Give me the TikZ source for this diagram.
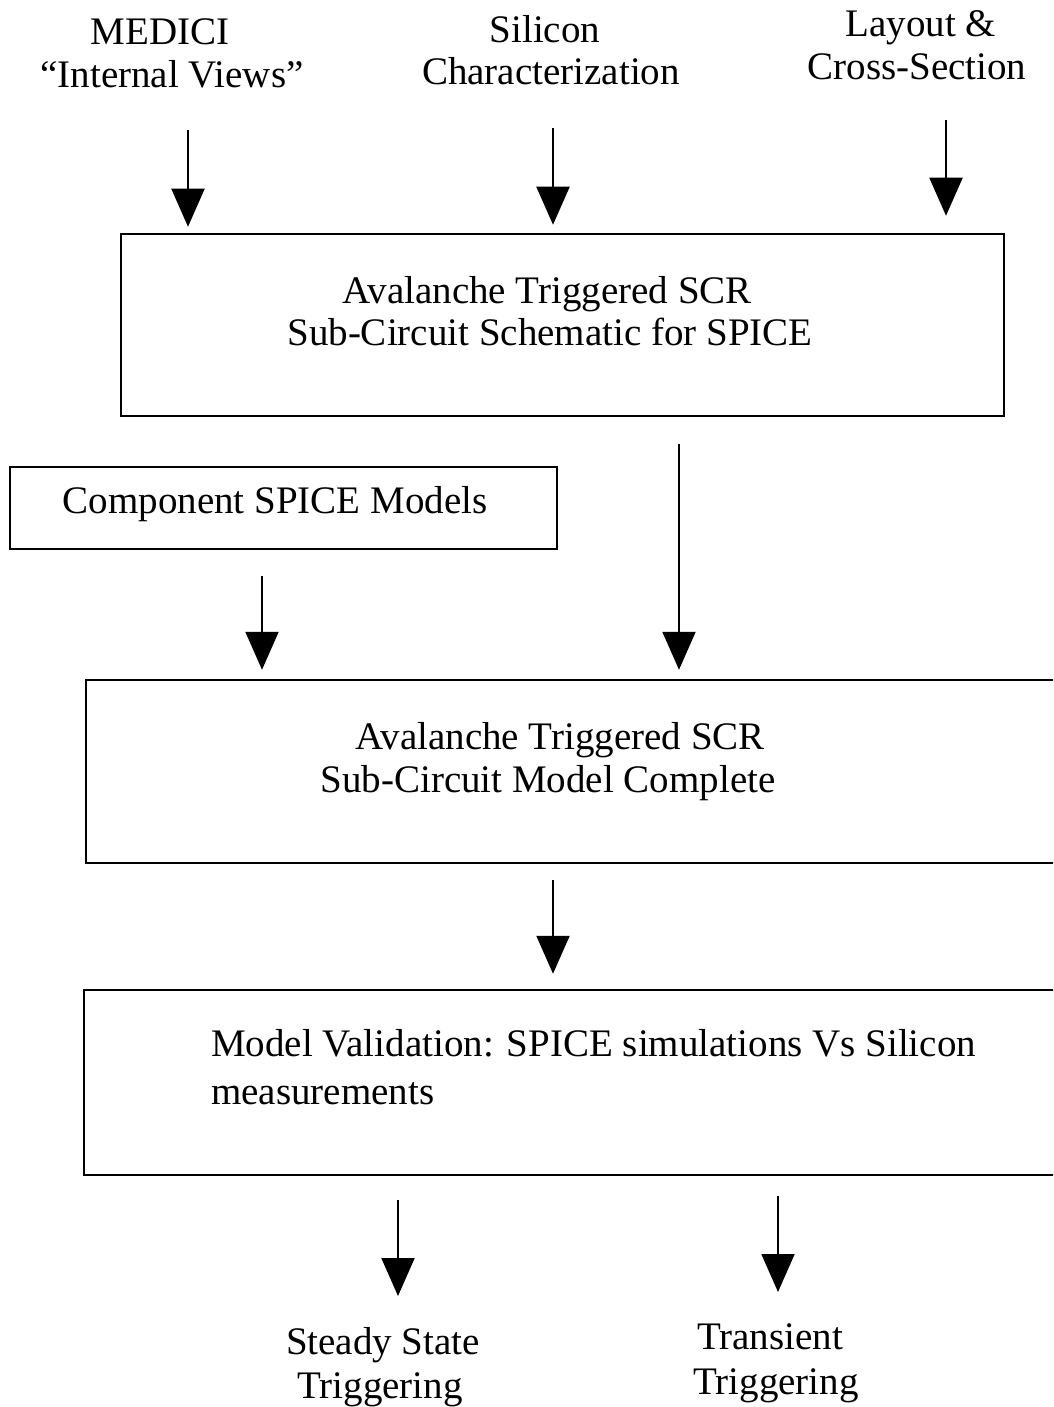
\documentclass[tikz,border=0pt]{standalone}
\usepackage{fontspec}
\setmainfont{Liberation Serif}
\usetikzlibrary{arrows.meta}
\begin{document}
\begin{tikzpicture}[x=1pt,y=-1pt,
  box/.style={draw, line width=2.5pt, rectangle, inner sep=0pt},
  lbl/.style={anchor=base, inner sep=0pt, font=\fontsize{39}{43}\selectfont},
  lblw/.style={lbl, anchor=base west},
  arr/.style={line width=2pt, -{Triangle[width=33pt,length=38pt]}}]
\fill[white] (0,0) rectangle (1053,1407);
\clip (0,0) rectangle (1053,1407);

% input labels
\node[lbl] (med1) at (160,45) {MEDICI};
\node[lbl] (med2) at (172,88) {“Internal Views”};
\node[lbl] (sil1) at (545,43) {Silicon};
\node[lbl] (sil2) at (551,85) {Characterization};
\node[lbl] (lay1) at (921,37) {Layout \&};
\node[lbl] (lay2) at (917,80) {Cross-Section};

% boxes
\node[box, minimum width=883pt, minimum height=182pt] (b1) at (562.5,325) {};
\node[lbl] (b1t1) at (547,303) {Avalanche Triggered SCR};
\node[lbl] (b1t2) at (550,345) {Sub-Circuit Schematic for SPICE};

\node[box, minimum width=547pt, minimum height=82pt] (b2) at (283.5,508) {};
\node[lbl] (b2t) at (275,513) {Component SPICE Models};

\node[box, minimum width=984pt, minimum height=183pt] (b3) at (578,771.5) {};
\node[lbl] (b3t1) at (560,749) {Avalanche Triggered SCR};
\node[lbl] (b3t2) at (548,792) {Sub-Circuit Model Complete};

\node[box, minimum width=986pt, minimum height=185pt] (b4) at (577,1082.5) {};
\node[lblw] (b4t1) at (211,1056) {Model Validation: SPICE simulations Vs Silicon};
\node[lblw] (b4t2) at (211,1104) {measurements};

% outputs
\node[lbl] (ss1) at (383,1354) {Steady State};
\node[lbl] (ss2) at (380,1398) {Triggering};
\node[lbl] (tr1) at (770,1349) {Transient};
\node[lbl] (tr2) at (776,1394) {Triggering};

% arrow tails and tips
\coordinate (t1) at (188,130);
\coordinate (t2) at (553,128);
\coordinate (t3) at (946,120);
\coordinate (x4) at (262,0);
\coordinate (x5) at (679,0);
\coordinate (x6) at (553,0);
\coordinate (e7) at (398,1296);
\coordinate (e8) at (778,1292);

\draw[arr, shorten >=6pt] (t1) -- (t1 |- b1.north);
\draw[arr, shorten >=8pt] (t2) -- (t2 |- b1.north);
\draw[arr, shorten >=17pt] (t3) -- (t3 |- b1.north);
\draw[arr, shorten <=26pt, shorten >=9pt] (x4 |- b2.south) -- (x4 |- b3.north);
\draw[arr, shorten <=27pt, shorten >=9pt] (x5 |- b1.south) -- (x5 |- b3.north);
\draw[arr, shorten <=16pt, shorten >=15pt] (x6 |- b3.south) -- (x6 |- b4.north);
\draw[arr, shorten <=24pt] (e7 |- b4.south) -- (e7);
\draw[arr, shorten <=20pt] (e8 |- b4.south) -- (e8);
\end{tikzpicture}
\end{document}
